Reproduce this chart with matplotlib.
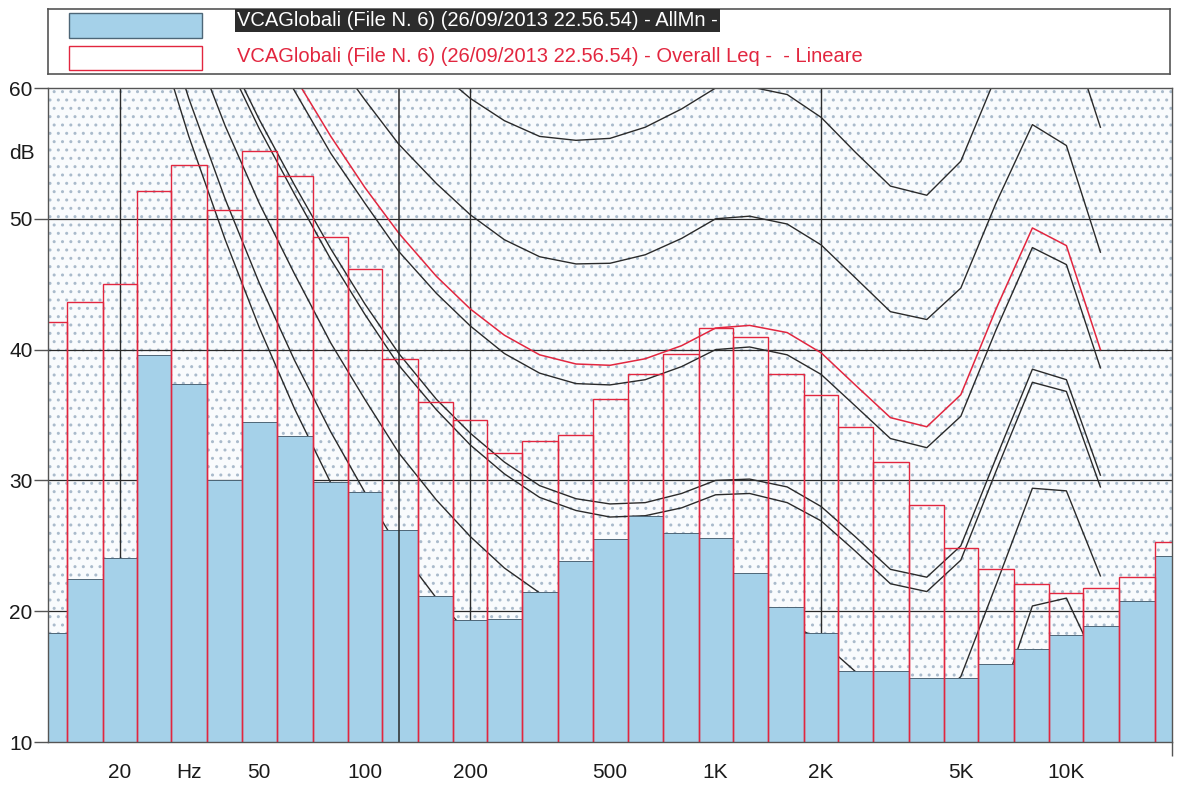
import numpy as np
import matplotlib
matplotlib.use('Agg')
import matplotlib.pyplot as plt
from matplotlib.patches import Rectangle
from matplotlib.ticker import FixedLocator, NullFormatter

# 1/3 octave bands, Hz
bands = [12.5, 16, 20, 25, 31.5, 40, 50, 63, 80, 100, 125, 160, 200, 250, 315,
         400, 500, 630, 800, 1000, 1250, 1600, 2000, 2500, 3150, 4000, 5000,
         6300, 8000, 10000, 12500, 16000, 20000]

# minimum levels per band (AllMn), dB
all_min = [18.3, 22.5, 24.1, 39.6, 37.4, 30.0, 34.5, 33.4, 29.9, 29.1, 26.2,
           21.2, 19.3, 19.4, 21.5, 23.8, 25.5, 27.3, 26.0, 25.6, 22.9, 20.35,
           18.3, 15.45, 15.45, 14.9, 14.9, 16.0, 17.1, 18.2, 18.9, 20.8, 24.2]

# overall Leq per band, linear, dB
leq = [42.1, 43.65, 45.0, 52.15, 54.1, 50.7, 55.2, 53.3, 48.6, 46.2, 39.3,
       36.0, 34.6, 32.1, 33.0, 33.5, 36.2, 38.1, 39.7, 41.65, 41.0, 38.1,
       36.5, 34.1, 31.4, 28.1, 24.8, 23.2, 22.1, 21.4, 21.8, 22.6, 25.3]

# isophone curves, 20 Hz .. 12.5 kHz
iso_freq = [20, 25, 31.5, 40, 50, 63, 80, 100, 125, 160, 200, 250, 315, 400,
            500, 630, 800, 1000, 1250, 1600, 2000, 2500, 3150, 4000, 5000,
            6300, 8000, 10000, 12500]
iso_threshold = [74.3, 65.0, 56.3, 48.4, 41.7, 35.5, 29.8, 25.1, 20.7, 16.8,
                 13.8, 11.2, 8.9, 7.2, 6.0, 5.0, 4.4, 4.2, 3.7, 2.6, 1.0, -1.2,
                 -3.6, -3.9, -1.1, 6.6, 15.3, 16.4, 11.6]
iso_10 = [76.8, 67.7, 59.2, 51.5, 45.1, 39.2, 33.7, 29.1, 24.8, 21.0, 18.1,
          15.6, 13.4, 11.9, 10.9, 10.1, 9.9, 10.0, 9.7, 8.7, 7.2, 5.0, 2.6,
          2.2, 4.8, 12.2, 20.4, 21.0, 15.5]
iso_20 = [81.3, 72.5, 64.3, 57.1, 51.2, 45.8, 40.5, 36.2, 32.1, 28.5, 25.7,
          23.3, 21.4, 20.1, 19.4, 19.1, 19.4, 20.0, 19.9, 19.2, 17.7, 15.4,
          13.0, 12.5, 15.0, 22.0, 29.4, 29.2, 22.7]
iso_min_tangent = [85.5, 77.0, 69.1, 62.3, 56.9, 51.9, 46.9, 42.7, 38.8, 35.4,
                   32.7, 30.5, 28.7, 27.7, 27.2, 27.3, 27.9, 28.9, 29.0, 28.3,
                   26.9, 24.6, 22.1, 21.5, 23.9, 30.7, 37.5, 36.8, 29.5]
iso_30 = [86.0, 77.6, 69.7, 62.9, 57.6, 52.6, 47.7, 43.5, 39.7, 36.2, 33.6,
          31.4, 29.6, 28.6, 28.2, 28.3, 29.0, 30.0, 30.1, 29.5, 28.0, 25.7,
          23.2, 22.6, 25.0, 31.7, 38.5, 37.7, 30.4]
iso_40 = [91.0, 82.9, 75.4, 69.0, 64.3, 59.8, 55.0, 51.2, 47.5, 44.3, 41.8,
          39.7, 38.2, 37.4, 37.3, 37.7, 38.7, 40.0, 40.2, 39.6, 38.1, 35.7,
          33.2, 32.5, 34.9, 41.5, 47.8, 46.5, 38.6]
iso_leq_tangent = [91.8, 83.8, 76.3, 70.1, 65.4, 60.9, 56.3, 52.4, 48.9, 45.6,
                   43.1, 41.1, 39.6, 38.9, 38.8, 39.3, 40.3, 41.65, 41.85, 41.3,
                   39.75, 37.3, 34.8, 34.1, 36.55, 43.1, 49.3, 47.95, 40.0]
iso_50 = [96.2, 88.5, 81.3, 75.4, 71.3, 67.1, 62.7, 59.1, 55.7, 52.7, 50.3,
          48.4, 47.1, 46.55, 46.6, 47.25, 48.5, 50.0, 50.2, 49.6, 48.0, 45.5,
          42.9, 42.3, 44.7, 51.2, 57.2, 55.6, 47.45]
iso_60 = [101.7, 94.4, 87.6, 82.2, 78.7, 74.8, 70.6, 67.3, 64.2, 61.4, 59.2,
          57.5, 56.3, 56.0, 56.15, 57.0, 58.4, 60.0, 60.1, 59.5, 57.75, 55.1,
          52.5, 51.8, 54.4, 60.9, 66.7, 65.0, 57.0]

tick_freq = [20, 31.5, 50, 100, 200, 500, 1000, 2000, 5000, 10000]
tick_text = ['20', 'Hz', '50', '100', '200', '500', '1K', '2K', '5K', '10K']
marker_freq = 125

legend_min = 'VCAGlobali (File N. 6) (26/09/2013 22.56.54) - AllMn -'
legend_leq = 'VCAGlobali (File N. 6) (26/09/2013 22.56.54) - Overall Leq -  - Lineare'

RED = '#e2263f'
BLUE = '#a5d1e9'
INK = '#2a2a2a'

plt.rcParams['font.family'] = ['Liberation Sans', 'DejaVu Sans']

# band edges from geometric means of neighbouring centres
f = np.array(bands, dtype=float)
inner = np.sqrt(f[:-1] * f[1:])
edges = np.concatenate([[f[0] ** 2 / inner[0]], inner, [f[-1] ** 2 / inner[-1]]])
widths = np.diff(edges)

fig = plt.figure(figsize=(11.83, 7.85), dpi=100)
ax = fig.add_axes([48 / 1183, 1 - 742 / 785, 1124 / 1183, 654 / 785])
ax.set_xscale('log')
ax.set_xlim(12.5, 20000)
ax.set_ylim(10, 60)

# dotted paper background
ax.add_patch(Rectangle((0, 0), 1, 1, transform=ax.transAxes, facecolor='#f9fbfd',
                       edgecolor='#aabbcc', hatch='..', lw=0, zorder=0))

for y in [20, 30, 40, 50]:
    ax.axhline(y, color=INK, lw=0.9, zorder=1)
for x in [20, 200, 2000]:
    ax.axvline(x, color=INK, lw=1.0, zorder=1)

black_curves = [iso_threshold, iso_10, iso_20, iso_min_tangent, iso_30, iso_40,
                iso_50, iso_60]
for c in black_curves:
    ax.plot(iso_freq, c, color=INK, lw=1.0, zorder=2)
ax.plot(iso_freq, iso_leq_tangent, color=RED, lw=1.1, zorder=2)

ax.bar(edges[:-1], all_min, width=widths, bottom=0, align='edge', color=BLUE,
       edgecolor='#4d6677', lw=0.7, zorder=3)
ax.bar(edges[:-1], leq, width=widths, bottom=0, align='edge', fill=False,
       edgecolor=RED, lw=1.0, zorder=4)

ax.axvline(marker_freq, color=INK, lw=1.1, zorder=5)

ax.set_yticks([10, 20, 30, 40, 50, 60])
ax.tick_params(axis='y', length=10, width=1, color='#555555', pad=1,
               labelsize=15, labelcolor='#1a1a1a')
ax.xaxis.set_major_locator(FixedLocator(tick_freq))
ax.set_xticklabels(tick_text)
ax.xaxis.set_minor_locator(FixedLocator([20, 200, 2000, 20000]))
ax.xaxis.set_minor_formatter(NullFormatter())
ax.tick_params(axis='x', which='major', length=0, pad=15, labelsize=15,
               labelcolor='#1a1a1a')
ax.tick_params(axis='x', which='minor', length=10, width=1, color='#555555')
for s in ax.spines.values():
    s.set_color('#555555')
    s.set_linewidth(1.0)
    s.set_zorder(6)
ax.text(-0.023, 55, 'dB', transform=ax.get_yaxis_transform(), ha='center',
        va='center', fontsize=15, color='#1a1a1a')

# legend box
lax = fig.add_axes([48 / 1183, 1 - 74 / 785, 1122 / 1183, 65 / 785])
lax.set_xlim(0, 1122)
lax.set_ylim(65, 0)
lax.set_xticks([])
lax.set_yticks([])
for s in lax.spines.values():
    s.set_color('#555555')
    s.set_linewidth(1.2)
lax.add_patch(Rectangle((21, 4), 133, 25, facecolor=BLUE, edgecolor='#4d6677', lw=1))
lax.add_patch(Rectangle((21, 37), 133, 24, facecolor='white', edgecolor=RED, lw=1))
lax.text(189, 11.5, legend_min, va='center', ha='left', fontsize=14.5,
         color='white', bbox=dict(facecolor='#2c2c2c', edgecolor='none', pad=1.5))
lax.text(189, 48, legend_leq, va='center', ha='left', fontsize=14.5, color=RED)

fig.savefig('out.png', dpi=100)
